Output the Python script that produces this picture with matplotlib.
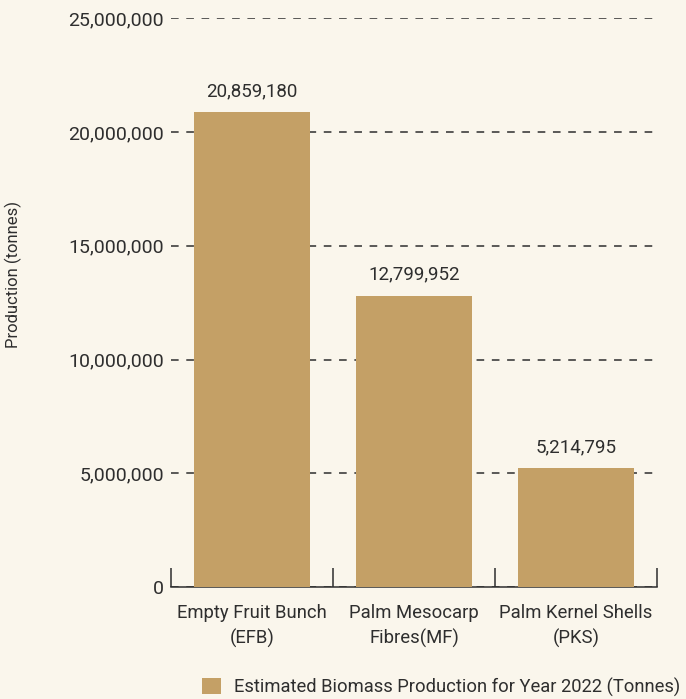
import matplotlib.pyplot as plt
import numpy as np

# Biomass data
categories = ["Empty Fruit Bunch\n(EFB)", "Palm Mesocarp\nFibres(MF)", "Palm Kernel Shells\n(PKS)"]
production = [20859180, 12799952, 5214795]
y_ticks = [0, 5000000, 10000000, 15000000, 20000000, 25000000]
legend_label = "Estimated Biomass Production for Year 2022 (Tonnes)"

bg = '#FAF6EC'
bar_color = '#C4A066'
text_color = '#2E2E2E'

plt.rcParams['font.family'] = ['Roboto', 'DejaVu Sans']

fig = plt.figure(figsize=(6.86, 6.99), dpi=100, facecolor=bg)
ax = fig.add_axes([0.249, 0.160, 0.709, 0.814], facecolor=bg)

x = np.arange(len(categories))
bars = ax.bar(x, production, width=0.72, color=bar_color, zorder=3, label=legend_label)

# value labels above bars
for b, v in zip(bars, production):
    ax.annotate(f"{v:,}", (b.get_x() + b.get_width() / 2, v), xytext=(0, 9),
                textcoords='offset points', ha='center', va='bottom',
                fontsize=13.5, color=text_color)

ax.set_xlim(-0.5, len(categories) - 0.5)
ax.set_ylim(0, 25000000)
ax.set_yticks(y_ticks)
ax.set_yticklabels([f"{t:,}" for t in y_ticks], fontsize=14, color=text_color)
ax.yaxis.grid(True, linestyle=(0, (5, 5)), color='#2E2E2E', linewidth=1.1, zorder=1)
ax.tick_params(axis='y', length=0, pad=5)

# bracket ticks between categories
ax.set_xticks(np.arange(-0.5, len(categories), 1.0))
ax.set_xticklabels([])
ax.tick_params(axis='x', which='major', direction='in', length=14, width=1.1, color='#2E2E2E')
ax.set_xticks(x, minor=True)
ax.set_xticklabels(categories, minor=True, fontsize=13.3, color=text_color, linespacing=1.45)
ax.tick_params(axis='x', which='minor', length=0, pad=12)

for side in ['left', 'right', 'top']:
    ax.spines[side].set_visible(False)
ax.spines['bottom'].set_color('#2E2E2E')
ax.spines['bottom'].set_linewidth(1.1)

ax.set_ylabel("Production (tonnes)", fontsize=12, color=text_color)
ax.yaxis.set_label_coords(-0.305, 0.55)

fig.legend(handles=[bars], labels=[legend_label], loc='center', bbox_to_anchor=(0.643, 0.017),
           frameon=False, fontsize=13.2, handlelength=1.0, handleheight=1.0, handletextpad=0.7,
           labelcolor=text_color)

fig.savefig('out.png', dpi=100, facecolor=bg)
